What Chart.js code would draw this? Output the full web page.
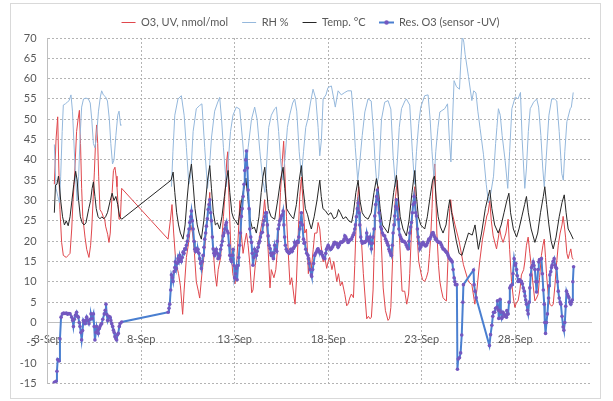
<!DOCTYPE html>
<html>
<head>
<meta charset="utf-8">
<script src="https://cdn.jsdelivr.net/npm/chart.js@4/dist/chart.umd.min.js"></script>
<style>
  html, body { margin: 0; padding: 0; background: #fff; }
  #graph { display: block; }
</style>
</head>
<body>
<canvas id="graph" width="613" height="401"></canvas>
<script>
// 凡例ラベル
const SERIES_NAMES = ['O3, UV, nmol/mol', 'RH %', 'Temp. °C', 'Res. O3 (sensor -UV)'];

// 横軸の目盛り (9月の日)
const X_TICKS = [3, 8, 13, 18, 23, 28];
const X_MIN = 3;
const X_MAX = 32.05;

// 縦軸
const Y_MIN = -15;
const Y_MAX = 70;
const Y_STEP = 5;

// O3 (UV) [日, 値]
const o3Data = [
  [3.36,34],[3.45,45],[3.54,50.6],[3.6,38],[3.66,27.8],[3.75,19.7],[3.84,16.5],[4.0,16],[4.1,16.5],[4.2,17],
  [4.29,23],[4.36,30],[4.43,35],[4.55,47],[4.63,50],[4.7,52.2],[4.76,44],[4.82,33],[4.88,26],[5.0,21],
  [5.09,18],[5.21,16],[5.3,19],[5.36,23],[5.43,30],[5.5,37],[5.56,44],[5.62,48.6],[5.68,44],[5.73,36],
  [5.8,27.8],[5.9,27],[5.98,26],[6.05,25.5],[6.1,23.7],[6.21,21.7],[6.28,19.7],[6.35,22],[6.45,32],[6.52,37.4],
  [6.6,38.2],[6.66,36],[6.71,33.4],[6.78,28],[6.82,25.4],[6.89,25.5],[6.96,33],
  [9.44,20.5],[9.56,25],[9.65,29],[9.74,22],[9.85,15],[10.0,12],[10.1,9],[10.22,2],[10.3,8],[10.42,16],
  [10.55,20],[10.65,24],[10.75,22],[10.85,17],[10.95,10],[11.06,7.7],[11.13,6],[11.25,12],[11.4,18],[11.5,24],
  [11.6,28],[11.67,32],[11.72,26],[11.85,18],[11.95,12],[12.04,8.9],[12.12,13],[12.25,16],[12.4,26],[12.5,33],
  [12.58,40],[12.63,42],[12.7,30],[12.8,18],[12.9,12],[13.02,9.5],[13.1,14],[13.2,22],[13.28,30],[13.35,22],
  [13.45,17],[13.55,20],[13.63,22],[13.72,19],[13.82,14],[13.91,7.3],[13.98,8],[14.1,14],[14.25,19],[14.4,23],
  [14.52,26],[14.6,30.2],[14.7,25],[14.8,17],[14.89,8.5],[14.96,13],[15.1,11],[15.2,13],[15.32,19.7],[15.45,32],
  [15.55,40],[15.62,44.6],[15.7,35],[15.77,26],[15.89,15],[15.96,9.3],[16.05,11],[16.18,6],[16.23,4.5],[16.3,10],
  [16.4,22],[16.48,31],[16.57,35.8],[16.65,30],[16.75,22],[16.84,23],[16.94,12],[17.01,16],[17.1,13.3],[17.2,18],
  [17.28,22],[17.4,22],[17.46,24.6],[17.55,23],[17.62,19],[17.73,14.9],[17.82,16],[17.92,13.3],[18.0,15],[18.08,16],
  [18.2,13],[18.3,15],[18.46,10.1],[18.55,12],[18.65,9],[18.75,10],[18.89,6.9],[18.99,4.1],[19.06,4.5],[19.15,6],
  [19.24,7],[19.35,6.1],[19.42,14],[19.51,26.2],[19.58,31],[19.63,33.4],[19.7,27],[19.78,20],[19.88,12],[19.96,7],
  [20.06,0.9],[20.15,1.5],[20.24,0.9],[20.31,1.3],[20.4,8],[20.45,16],[20.52,25],[20.58,31],[20.67,33.4],[20.75,28],
  [20.81,23],[20.94,8.5],[21.06,2.9],[21.2,0.5],[21.28,1],[21.35,3.7],[21.47,19],[21.55,28],[21.6,31],[21.7,35],
  [21.77,28],[21.83,19],[21.95,7.7],[22.09,7.7],[22.2,4.5],[22.3,7],[22.36,12],[22.43,20],[22.49,26.2],[22.56,30],
  [22.63,33.4],[22.72,24],[22.84,15],[22.98,11.7],[23.05,10.5],[23.16,10.1],[23.25,11],[23.34,12.5],[23.42,17],[23.48,21],
  [23.55,28],[23.61,35],[23.7,39],[23.76,30],[23.81,22],[23.9,14],[23.97,10.1],[24.05,8],[24.14,6.1],[24.25,5.5],
  [24.32,5.3],[24.4,15],[24.45,22],[24.5,28],[24.55,30.2],[24.62,27],[24.68,26],[24.78,24],[25.0,20],[25.23,14.2],
  [25.5,10],[25.68,9.3],[25.84,4.5],[25.95,8],[26.1,15],[26.25,20.5],[26.48,26.2],[26.55,27],[26.64,30],[26.72,25],
  [26.82,21.3],[27.0,18.1],[27.17,23],[27.25,21],[27.35,19.7],[27.5,22],[27.62,25.4],[27.7,18],[27.8,10.1],[27.9,6],
  [27.98,3.7],[28.07,5],[28.15,5.3],[28.25,8],[28.33,11.7],[28.45,13],[28.51,14.9],[28.6,19],[28.69,21],[28.78,17],
  [28.87,13.3],[28.96,9],[29.05,5.3],[29.14,6],[29.22,6.9],[29.3,11],[29.4,16.5],[29.48,19],[29.55,20.5],[29.62,16],
  [29.67,12],[29.76,7],[29.85,4.5],[29.95,4],[30.03,4.5],[30.12,9],[30.2,14],[30.3,19],[30.4,22],[30.5,24],
  [30.56,26.1],[30.62,24],[30.69,21],[30.76,17],[30.83,15.7],[30.9,17],[30.97,18.1],[31.04,16],[31.1,15.5]
];

// RH [日, 値]  (null = 欠測)
const rhData = [
  [3.36,43.8],[3.45,33],[3.55,31],[3.63,29.5],[3.7,36],[3.78,47],[3.84,53.5],[3.95,53.8],[4.05,54.2],[4.15,54.6],
  [4.25,56],[4.33,52],[4.4,45],[4.48,37],[4.58,30],[4.66,36],[4.74,46],[4.82,53],[4.92,55],[5.05,55.2],
  [5.18,55],[5.28,54],[5.36,50],[5.45,44],[5.53,43],[5.62,46],[5.72,52],[5.82,55.5],[5.89,57],[5.98,56],
  [6.1,55.5],[6.2,54.5],[6.3,50],[6.38,44],[6.47,39],[6.55,40],[6.65,46],[6.75,51],[6.82,52],[6.9,48.5],[6.96,48.6],
  [8.2,null],
  [9.62,33.4],[9.7,42],[9.8,51],[9.97,55],[10.15,55.8],[10.3,51],[10.42,43],[10.55,34],[10.65,36],[10.78,47],
  [10.95,52.6],[11.13,53.4],[11.25,53.8],[11.4,43],[11.55,33],[11.65,38],[11.76,45.4],[11.93,52],[12.08,54],[12.2,55.4],
  [12.3,50],[12.4,43],[12.56,33.4],[12.66,40],[12.78,47],[12.91,51],[13.09,53],[13.27,52.5],[13.42,45],[13.57,36],
  [13.72,43],[13.9,50],[14.07,53],[14.2,50],[14.35,42],[14.5,35],[14.62,32],[14.72,40],[14.82,48],[14.96,51],
  [15.14,52.6],[15.23,53],[15.35,47],[15.45,40],[15.58,35],[15.7,41],[15.82,48],[15.94,51],[16.1,54],[16.21,55],
  [16.32,52],[16.45,42],[16.57,36],[16.68,42],[16.8,48],[16.92,50.2],[17.05,54],[17.19,57.4],[17.34,55],[17.46,48],
  [17.55,41],[17.64,45],[17.73,55],[17.88,56],[17.99,57.8],[18.17,58.2],[18.3,55],[18.38,53],[18.53,57],[18.7,56],
  [18.89,56.6],[19.05,57],[19.24,57],[19.35,51],[19.45,43],[19.58,35],[19.7,40],[19.82,46],[19.96,51.8],[20.13,55],
  [20.3,54.5],[20.42,47],[20.5,40],[20.6,34],[20.7,36],[20.85,50],[21.02,54.2],[21.2,54.6],[21.35,52.5],[21.47,41],
  [21.6,33.4],[21.7,40],[21.8,48],[21.92,52.6],[22.1,54.5],[22.18,55],[22.36,53.5],[22.5,42],[22.62,34],[22.72,42],
  [22.84,49],[22.95,53],[23.16,55.8],[23.34,56],[23.45,50],[23.55,42],[23.66,35],[23.75,42],[23.87,48],[23.97,51.8],
  [24.23,52.6],[24.38,53.8],[24.48,45],[24.56,39.5],[24.65,50],[24.73,59.5],[24.86,58],[25.02,57.4],[25.1,65],[25.17,70.5],
  [25.25,69],[25.32,66],[25.5,60.5],[25.68,54.6],[25.78,57],[25.9,56.5],[26.0,52],[26.12,47.8],[26.3,41.4],[26.45,34],
  [26.57,29.4],[26.7,32],[26.84,36],[26.95,44],[27.02,48],[27.1,52.6],[27.2,51],[27.3,46],[27.46,39.8],[27.6,33],
  [27.7,42],[27.82,52.6],[28.0,55.5],[28.15,55],[28.28,56.6],[28.37,45],[28.51,33],[28.6,38],[28.7,47],[28.8,52.6],
  [28.98,54.2],[29.15,55],[29.25,53],[29.37,46],[29.47,38],[29.55,33.4],[29.65,40],[29.8,51],[29.95,55],[30.1,55],
  [30.22,54.5],[30.35,47],[30.49,36.6],[30.57,35],[30.65,42],[30.76,49.4],[30.94,52.6],[31.0,53],[31.1,56.6]
];

// 気温 [日, 値]
const tempData = [
  [3.36,27],[3.42,33.8],[3.5,34],[3.58,36],[3.63,34],[3.7,30],[3.8,26],[3.9,24],[4.0,25],[4.1,23.8],
  [4.2,26],[4.3,30],[4.4,34],[4.5,37.2],[4.58,35],[4.66,30],[4.75,26],[4.85,24.5],[4.95,24],[5.05,24.5],
  [5.2,28],[5.3,30],[5.38,33],[5.45,34.6],[5.53,31],[5.6,28],[5.7,26],[5.8,25.5],[5.9,26],[6.0,25.5],
  [6.1,26],[6.2,27],[6.35,30],[6.45,31.8],[6.55,30],[6.65,31],[6.75,29],[6.85,26],[6.96,25.4],
  [9.6,35],[9.71,37],[9.8,32],[9.9,27],[10.0,24],[10.1,22],[10.24,20.5],[10.35,24],[10.45,30],[10.55,35],
  [10.69,39],[10.78,34],[10.88,28],[11.0,24],[11.1,22],[11.22,20.5],[11.35,25],[11.45,30],[11.55,35],[11.67,38.6],
  [11.76,33],[11.86,27],[11.97,24],[12.08,24.5],[12.2,23],[12.32,26],[12.45,31],[12.56,35],[12.65,37.4],[12.74,32],
  [12.85,27],[12.95,25.5],[13.05,25],[13.18,24],[13.3,28],[13.45,32],[13.6,35.5],[13.7,31],[13.8,26],[13.95,23],
  [14.05,23.5],[14.16,22],[14.3,26],[14.42,32],[14.52,36],[14.61,38.2],[14.7,33],[14.8,28],[14.95,26],[15.14,25.4],
  [15.3,30],[15.45,35],[15.59,38.2],[15.68,33],[15.78,28],[15.9,27],[16.05,26],[16.15,25.5],[16.3,29],[16.45,35],
  [16.57,38.6],[16.66,33],[16.78,28],[16.9,26.5],[17.0,24.5],[17.1,23],[17.25,26],[17.4,30],[17.55,35],[17.63,31],
  [17.72,28],[17.85,27.5],[18.0,26.5],[18.15,27],[18.3,25.5],[18.45,26],[18.55,27.8],[18.65,27],[18.8,25.5],[18.95,26],
  [19.1,25],[19.25,24.6],[19.35,27],[19.48,32],[19.6,35],[19.7,30],[19.82,27],[19.95,26],[20.13,25.4],[20.3,27],
  [20.45,32],[20.58,35.4],[20.67,33],[20.78,28],[20.9,24],[21.05,23],[21.2,22],[21.35,26],[21.5,32],[21.65,36.2],
  [21.75,31],[21.85,26],[22.0,23],[22.18,21.3],[22.32,25],[22.48,32],[22.63,37.4],[22.72,31],[22.82,26],[22.95,24],
  [23.16,23],[23.3,26],[23.45,31],[23.58,35],[23.68,36],[23.78,30],[23.88,26],[24.0,23.5],[24.14,22],[24.3,24],
  [24.42,28],[24.5,30.2],[24.6,27],[24.7,24],[24.85,20],[25.0,17],[25.15,16.5],[25.3,19],[25.5,22],[25.7,21.5],
  [25.85,24],[26.03,18],[26.2,22],[26.4,28],[26.55,31],[26.64,32.6],[26.75,28],[26.9,24],[27.09,22],[27.25,24],
  [27.4,27],[27.55,30],[27.66,31.8],[27.75,27],[27.9,23],[28.07,21],[28.2,23],[28.35,26],[28.5,29],[28.6,31],
  [28.7,27],[28.85,23],[29.05,19.7],[29.2,22],[29.35,27],[29.5,31],[29.58,33.4],[29.68,29],[29.8,24],[29.92,20],
  [30.03,18.1],[30.18,21],[30.35,26],[30.5,29.5],[30.62,31.4],[30.72,27],[30.83,23],[30.95,22],[31.1,20.5]
];

// Res. O3 (センサー - UV) [日, 値]
const resData = [
  [3.36,-14.7],[3.45,-14.5],[3.5,-12],[3.54,-9.1],[3.61,-9.5],[3.66,-4],[3.72,1.3],[3.79,2.1],[3.86,2.3],[3.93,2.2],
  [4.0,2.3],[4.07,2.0],[4.14,2.2],[4.2,2.1],[4.29,1.3],[4.34,0.5],[4.38,-1],[4.43,0.8],[4.49,1.8],[4.55,2.5],
  [4.6,1.5],[4.64,1.3],[4.69,0],[4.73,-1],[4.78,-2.5],[4.82,-4.3],[4.87,-2],[4.91,0.5],[4.96,0],[5.0,-0.3],
  [5.05,0.5],[5.09,1.3],[5.15,0.5],[5.21,-0.3],[5.27,0.8],[5.32,2.1],[5.38,1],[5.45,2.1],[5.49,-1],[5.53,-4.3],
  [5.58,-2.5],[5.62,-1],[5.67,-2],[5.71,-2.7],[5.76,-1.5],[5.8,-1],[5.85,-0.5],[5.89,-0.3],[5.95,0.8],[6.03,2.1],
  [6.08,3],[6.12,4.5],[6.16,2],[6.21,0.5],[6.27,1.5],[6.34,1.3],[6.38,0.5],[6.43,-0.3],[6.48,-1],[6.52,-1.9],
  [6.56,-2.5],[6.6,-3.5],[6.65,-4],[6.69,-4.3],[6.74,-3],[6.78,-2.7],[6.83,-1],[6.87,-0.3],[6.96,0.1],
  [9.44,2.5],[9.49,3.5],[9.53,4.5],[9.58,8],[9.62,11.7],[9.67,11],[9.71,10.1],[9.76,12.5],[9.8,13.5],[9.83,14.9],
  [9.88,13.3],[9.92,14.5],[9.97,15.7],[10.02,15],[10.06,16.5],[10.11,15.5],[10.15,15],[10.2,16],[10.24,17.3],[10.29,17],
  [10.33,18.1],[10.38,18],[10.42,19],[10.47,20],[10.51,21.3],[10.56,23],[10.6,24.6],[10.65,26],[10.69,27.4],[10.74,25],
  [10.78,23],[10.83,20],[10.87,18],[10.91,17.5],[10.95,18.1],[11.0,17.5],[11.04,18],[11.09,17],[11.13,15.7],[11.18,14.5],
  [11.22,13.3],[11.27,15],[11.31,16.5],[11.36,18.5],[11.4,20.5],[11.45,22],[11.49,23.7],[11.54,25.5],[11.58,27.8],[11.63,29],
  [11.67,30.2],[11.72,27],[11.76,25],[11.81,21],[11.85,18.1],[11.89,17],[11.93,16.5],[11.98,17.5],[12.02,18],[12.07,17],
  [12.11,15.7],[12.16,16],[12.2,16.5],[12.25,18],[12.29,19],[12.34,20],[12.38,21.3],[12.43,22],[12.47,23],[12.52,24],
  [12.56,24.6],[12.6,22.5],[12.65,22],[12.7,19],[12.74,16.5],[12.79,15.5],[12.83,15],[12.88,16.5],[12.92,18],[12.97,14],
  [13.0,11],[13.05,12],[13.09,13.3],[13.13,10.5],[13.18,14],[13.22,16],[13.27,19],[13.31,22],[13.36,26.1],[13.4,28],
  [13.45,31],[13.5,34],[13.54,37.4],[13.59,40],[13.63,42.2],[13.68,38],[13.72,32.6],[13.77,28],[13.81,23],[13.86,21],
  [13.9,19.7],[13.94,17],[13.98,14.1],[14.03,16],[14.07,18],[14.12,17.5],[14.16,16.5],[14.2,17.5],[14.25,18.5],[14.29,19.5],
  [14.34,20],[14.38,21],[14.43,22],[14.48,22.2],[14.52,24],[14.57,25],[14.61,26],[14.66,27],[14.71,27],[14.75,24],
  [14.79,21.3],[14.84,19],[14.89,18.2],[14.93,17],[14.96,16.5],[15.01,17],[15.07,15.7],[15.1,17],[15.14,19],[15.19,18],
  [15.25,17.5],[15.28,20],[15.32,23],[15.37,24],[15.41,25],[15.46,25.5],[15.5,26.2],[15.55,26.5],[15.59,27.4],[15.63,24],
  [15.67,21],[15.71,19],[15.76,18],[15.81,17.5],[15.86,17.3],[15.91,17],[15.96,17.3],[16.0,18],[16.03,18],[16.08,17.5],
  [16.14,18.2],[16.17,18.5],[16.21,19.7],[16.26,19],[16.3,19.5],[16.35,20],[16.39,19.7],[16.43,21],[16.48,23],[16.52,24.6],
  [16.57,27],[16.62,24],[16.68,20.5],[16.71,19.5],[16.75,19.7],[16.8,18],[16.85,17],[16.92,16.5],[16.94,15.7],[16.98,14.5],
  [17.03,13],[17.1,11.7],[17.12,11.3],[17.17,13],[17.22,14.5],[17.28,16.5],[17.33,17],[17.39,17.5],[17.43,18],[17.46,18.1],
  [17.5,17.5],[17.55,17.5],[17.59,17],[17.64,17.3],[17.7,16.5],[17.74,16],[17.78,15.8],[17.82,15.7],[17.87,17],[17.91,18],
  [17.96,18.5],[18.0,19],[18.05,18.5],[18.1,18.1],[18.14,18],[18.17,18.2],[18.22,18.5],[18.27,19],[18.31,19.5],[18.35,19.7],
  [18.4,19.5],[18.46,19.4],[18.49,19],[18.53,18.5],[18.58,19],[18.62,19.5],[18.67,19.8],[18.71,19.7],[18.76,19.8],[18.81,20],
  [18.85,20.5],[18.89,21.3],[18.94,21],[18.98,20.5],[19.02,20.3],[19.06,19.7],[19.11,20],[19.17,20.3],[19.21,20.4],[19.24,20.5],
  [19.29,21],[19.33,21.5],[19.38,22],[19.42,23],[19.46,24],[19.51,26],[19.56,28],[19.6,29.4],[19.65,27],[19.69,24],
  [19.74,21],[19.78,20],[19.83,19.5],[19.87,19.8],[19.92,19.7],[19.96,19.7],[20.01,20],[20.06,22],[20.1,21],[20.13,20.5],
  [20.18,20],[20.24,21],[20.27,19.5],[20.31,18.1],[20.36,19.5],[20.4,21],[20.45,23],[20.49,26.2],[20.54,29],[20.59,31],
  [20.63,32.6],[20.67,30.2],[20.72,27],[20.78,25],[20.81,23.5],[20.85,23],[20.9,22],[20.95,21.5],[21.02,21.3],[21.07,20.5],
  [21.12,20],[21.16,19.5],[21.2,19],[21.25,18],[21.29,17.5],[21.34,17],[21.38,16.5],[21.43,19],[21.47,22],[21.52,24],
  [21.56,26.2],[21.61,28.5],[21.65,30.2],[21.69,28],[21.74,25.4],[21.78,23],[21.83,21.5],[21.87,21],[21.92,20.5],[21.96,20],
  [22.01,20],[22.05,20],[22.09,19.8],[22.14,19.5],[22.18,19],[22.23,18.5],[22.27,18.1],[22.32,20],[22.36,22],[22.41,23.5],
  [22.45,24.6],[22.5,27],[22.54,29],[22.59,31],[22.63,29.5],[22.68,27],[22.72,26.2],[22.77,23],[22.81,21],[22.86,19.5],
  [22.9,18.1],[22.94,18.5],[22.99,19],[23.03,19.5],[23.07,19.7],[23.12,19.3],[23.16,19],[23.21,18.8],[23.25,19],[23.3,19.5],
  [23.34,20],[23.38,20.5],[23.43,20.5],[23.48,21],[23.52,21.5],[23.56,22],[23.61,22.1],[23.65,21.5],[23.7,21],[23.74,20.5],
  [23.79,20.5],[23.83,20],[23.88,19.8],[23.92,19.7],[23.97,19.7],[24.01,19.5],[24.06,19],[24.1,18.5],[24.14,18.1],[24.19,18],
  [24.23,17.8],[24.28,17.5],[24.32,17.3],[24.37,17],[24.41,16.5],[24.46,16],[24.5,15.7],[24.55,15.5],[24.59,15.2],[24.63,14.9],
  [24.68,13],[24.73,11],[24.77,10],[24.8,9.3],[24.88,9.3],[24.91,-11.5],[24.95,-9],[25.02,-8.7],[25.08,-7.5],[25.14,-3.1],
  [25.2,5],[25.23,9.3],[25.77,12.9],[25.8,9.3],[25.85,7.7],[25.91,6.1],[26.62,-5.7],[26.68,-3],[26.75,-0.7],[26.8,1.5],
  [26.84,2.5],[26.9,2.5],[26.95,3.5],[27.02,3.7],[27.05,5.3],[27.1,3],[27.12,1],[27.17,3],[27.19,5.7],[27.23,2.5],
  [27.28,1],[27.3,1.3],[27.35,2.5],[27.41,2],[27.46,1.5],[27.53,1.3],[27.55,2.9],[27.58,2],[27.62,2.1],[27.67,5],
  [27.71,8.5],[27.76,9],[27.83,9.3],[27.88,12],[27.94,15.7],[28.0,14.1],[28.03,14.5],[28.07,13],[28.11,11.5],[28.15,10.1],
  [28.2,10.5],[28.24,10.5],[28.29,10],[28.33,10.1],[28.38,9.5],[28.43,8.5],[28.48,7.7],[28.52,6.5],[28.56,5.5],[28.6,4.5],
  [28.65,3],[28.69,2.1],[28.74,5],[28.78,8.5],[28.83,11.7],[28.87,13.5],[28.92,14],[28.96,14.9],[29.0,14],[29.05,13],
  [29.1,10],[29.14,7.5],[29.18,10],[29.22,13],[29.26,14.9],[29.3,15.5],[29.35,15.5],[29.4,15.7],[29.45,12],[29.5,8],
  [29.55,4.5],[29.58,0],[29.62,-2.7],[29.67,0],[29.72,2.1],[29.78,6],[29.81,9],[29.85,11.7],[29.9,12.5],[29.94,13.5],
  [29.97,14.1],[30.02,15],[30.08,15.7],[30.13,14.1],[30.17,13.5],[30.21,13.3],[30.26,10],[30.3,7.7],[30.35,6],[30.4,5],
  [30.44,4.5],[30.5,1.5],[30.56,-1.1],[30.6,-1.9],[30.65,0],[30.7,4],[30.74,7.7],[30.79,7],[30.83,6.5],[30.87,6.1],
  [30.92,5],[30.97,4.5],[31.0,5],[31.04,5.5],[31.08,10],[31.12,13.7]
];

// 色
const COLOR_O3 = '#e0474c';
const COLOR_RH = '#95b8dc';
const COLOR_TEMP = '#262626';
const COLOR_RES = '#4a7fd0';
const COLOR_RES_POINT = '#7458c0';
const COLOR_GRID = '#b4b4b4';
const COLOR_AXIS = '#bfbfbf';
const COLOR_TEXT = '#595959';
const FONT_FAMILY = 'Lato, "Open Sans", sans-serif';

// [日, 値] → {x, y}
function toPoints(list) {
  return list.map(function(p) { return {x: p[0], y: p[1]}; });
}

// 凡例用アイコン (線+点)
function makeMarkerIcon() {
  const c = document.createElement('canvas');
  c.width = 15;
  c.height = 7;
  const ctx = c.getContext('2d');
  ctx.strokeStyle = COLOR_RES;
  ctx.lineWidth = 2;
  ctx.beginPath();
  ctx.moveTo(0, 3.5);
  ctx.lineTo(15, 3.5);
  ctx.stroke();
  ctx.fillStyle = COLOR_RES_POINT;
  ctx.beginPath();
  ctx.arc(7.5, 3.5, 2.2, 0, Math.PI * 2);
  ctx.fill();
  return c;
}
const markerIcon = makeMarkerIcon();

// 外枠
const framePlugin = {
  id: 'frame',
  beforeDraw: function(chart) {
    const ctx = chart.ctx;
    ctx.save();
    ctx.fillStyle = '#ffffff';
    ctx.fillRect(0, 0, chart.width, chart.height);
    ctx.strokeStyle = '#d9d9d9';
    ctx.lineWidth = 1;
    ctx.strokeRect(10.5, 3.5, 590, 395);
    ctx.restore();
  }
};

// 凡例を少し右へ寄せる
const legendShiftPlugin = {
  id: 'legendShift',
  afterLayout: function(chart) {
    if (chart.legend) {
      chart.legend.left += 10;
      chart.legend.right += 10;
    }
  }
};

Chart.defaults.font.family = FONT_FAMILY;
Chart.defaults.font.size = 11;
Chart.defaults.color = COLOR_TEXT;

const graph = new Chart(document.getElementById('graph'), {
  type: 'line',
  data: {
    datasets: [
      {
        label: SERIES_NAMES[0],
        data: toPoints(o3Data),
        borderColor: COLOR_O3,
        borderWidth: 1,
        pointRadius: 0,
        order: 4
      },
      {
        label: SERIES_NAMES[1],
        data: toPoints(rhData),
        borderColor: COLOR_RH,
        borderWidth: 1,
        pointRadius: 0,
        spanGaps: false,
        order: 3
      },
      {
        label: SERIES_NAMES[2],
        data: toPoints(tempData),
        borderColor: COLOR_TEMP,
        borderWidth: 1,
        pointRadius: 0,
        order: 2
      },
      {
        label: SERIES_NAMES[3],
        data: toPoints(resData),
        borderColor: COLOR_RES,
        borderWidth: 2,
        pointRadius: 1.8,
        pointBackgroundColor: COLOR_RES_POINT,
        pointBorderWidth: 0,
        order: 1
      }
    ]
  },
  options: {
    responsive: false,
    animation: false,
    devicePixelRatio: 1,
    layout: {
      padding: {top: 3, left: 10, right: 22, bottom: 13}
    },
    plugins: {
      tooltip: {enabled: false},
      legend: {
        position: 'top',
        labels: {
          usePointStyle: true,
          pointStyleWidth: 14,
          boxHeight: 7,
          padding: 14,
          color: COLOR_TEXT,
          font: {size: 11},
          sort: function(a, b) { return a.datasetIndex - b.datasetIndex; },
          generateLabels: function(chart) {
            const items = Chart.defaults.plugins.legend.labels.generateLabels(chart);
            items.forEach(function(item) {
              item.pointStyle = item.datasetIndex === 3 ? markerIcon : 'line';
            });
            return items;
          }
        }
      }
    },
    scales: {
      x: {
        type: 'linear',
        min: X_MIN,
        max: X_MAX,
        position: {y: 0},
        afterBuildTicks: function(scale) {
          scale.ticks = X_TICKS.map(function(v) { return {value: v}; });
        },
        ticks: {
          padding: 10,
          maxRotation: 0,
          autoSkip: false,
          callback: function(v) { return v + '-Sep'; }
        },
        grid: {color: COLOR_GRID, drawTicks: false},
        border: {display: true, color: COLOR_AXIS, width: 1, dash: [2, 2]}
      },
      y: {
        min: Y_MIN,
        max: Y_MAX,
        afterFit: function(scale) { scale.width = 37.6; },
        ticks: {stepSize: Y_STEP, padding: 11},
        grid: {color: COLOR_GRID, drawTicks: false},
        border: {display: true, color: COLOR_AXIS, width: 1, dash: [2, 2]}
      }
    }
  },
  plugins: [framePlugin, legendShiftPlugin]
});
</script>
</body>
</html>
